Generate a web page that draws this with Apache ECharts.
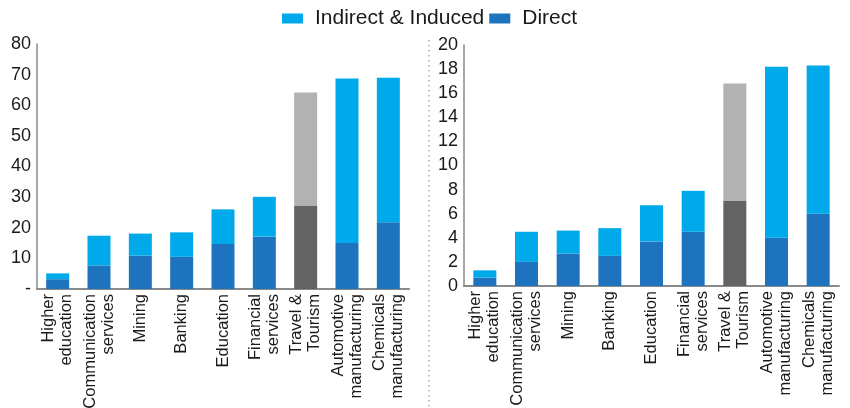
<!DOCTYPE html>
<html>
<head>
<meta charset="utf-8">
<script src="https://cdn.jsdelivr.net/npm/echarts@6/dist/echarts.min.js"></script>
<style>
html,body{margin:0;padding:0;background:#fff;}
#chart{width:850px;height:408px;}
</style>
</head>
<body>
<div id="chart"></div>
<script>
const categories = ["Higher\neducation", "Communication\nservices", "Mining", "Banking", "Education", "Financial\nservices", "Travel &\nTourism", "Automotive\nmanufacturing", "Chemicals\nmanufacturing"];
const highlightCategory = "Travel &\nTourism";

// Left panel
const leftTotal  = [5.1, 17.4, 18.1, 18.5, 26.0, 30.1, 64.2, 68.7, 69.0];
const leftDirect = [3.2, 7.7, 10.9, 10.5, 14.7, 17.1, 27.3, 15.0, 21.8];
const leftTicks = {min: 0, max: 80, interval: 10};

// Right panel
const rightTotal  = [1.3, 4.5, 4.6, 4.8, 6.7, 7.9, 16.8, 18.2, 18.3];
const rightDirect = [0.7, 2.0, 2.7, 2.5, 3.7, 4.5, 7.1, 4.0, 6.0];
const rightTicks = {min: 0, max: 20, interval: 2};

const seriesNames = ["Indirect & Induced", "Direct"];

const FONT = "'Liberation Sans', Arial, sans-serif";
const C_IND = '#00a9e9', C_DIR = '#1e73be', G_IND = '#b2b2b2', G_DIR = '#636363';

function mk(values, grey) {
  return values.map((v, i) => categories[i] === highlightCategory
    ? {value: v, itemStyle: {color: grey}} : v);
}
const leftIndirect = leftTotal.map((t, i) => +(t - leftDirect[i]).toFixed(2));
const rightIndirect = rightTotal.map((t, i) => +(t - rightDirect[i]).toFixed(2));

function xAx(idx) {
  return {
    type: 'category', gridIndex: idx, data: categories,
    axisLine: {lineStyle: {color: '#8a8a8a', width: 2}},
    axisTick: {show: false},
    axisLabel: {rotate: 90, margin: 5, fontSize: 16.5, lineHeight: 18, color: '#1a1a1a', fontFamily: FONT, interval: 0}
  };
}
function yAx(idx, t, zeroDash) {
  return {
    type: 'value', gridIndex: idx, min: t.min, max: t.max, interval: t.interval,
    axisLine: {show: true, lineStyle: {color: '#8a8a8a', width: 1.5}},
    axisTick: {show: false},
    splitLine: {show: false},
    axisLabel: {margin: 6, fontSize: 18, color: '#1a1a1a', fontFamily: FONT,
      formatter: v => (zeroDash && v === 0) ? '-' : String(v)}
  };
}

const chart = echarts.init(document.getElementById('chart'), null, {renderer: 'canvas'});
chart.setOption({
  animation: false,
  backgroundColor: '#fff',
  legend: {
    left: 282, top: 8, padding: 0, itemWidth: 21, itemHeight: 10, itemGap: 5,
    icon: 'rect',
    textStyle: {fontSize: 21, color: '#1a1a1a', fontFamily: FONT, padding: [0, 0, 0, 7]},
    data: seriesNames
  },
  grid: [
    {left: 37, right: 441, top: 44, bottom: 119, outerBoundsMode: 'none', containLabel: false},
    {left: 464, right: 11, top: 45, bottom: 122, outerBoundsMode: 'none', containLabel: false}
  ],
  xAxis: [xAx(0), xAx(1)],
  yAxis: [yAx(0, leftTicks, true), yAx(1, rightTicks, false)],
  graphic: [{
    type: 'line', shape: {x1: 429, y1: 40, x2: 429, y2: 408},
    style: {stroke: '#aaaaaa', lineWidth: 1.5, lineDash: [1.5, 3.5]}
  }],
  series: [
    {name: seriesNames[1], type: 'bar', stack: 'L', xAxisIndex: 0, yAxisIndex: 0, barWidth: 23,
     itemStyle: {color: C_DIR}, data: mk(leftDirect, G_DIR)},
    {name: seriesNames[0], type: 'bar', stack: 'L', xAxisIndex: 0, yAxisIndex: 0, barWidth: 23,
     itemStyle: {color: C_IND}, data: mk(leftIndirect, G_IND)},
    {name: seriesNames[1], type: 'bar', stack: 'R', xAxisIndex: 1, yAxisIndex: 1, barWidth: 23,
     itemStyle: {color: C_DIR}, data: mk(rightDirect, G_DIR)},
    {name: seriesNames[0], type: 'bar', stack: 'R', xAxisIndex: 1, yAxisIndex: 1, barWidth: 23,
     itemStyle: {color: C_IND}, data: mk(rightIndirect, G_IND)}
  ]
});
</script>
</body>
</html>
